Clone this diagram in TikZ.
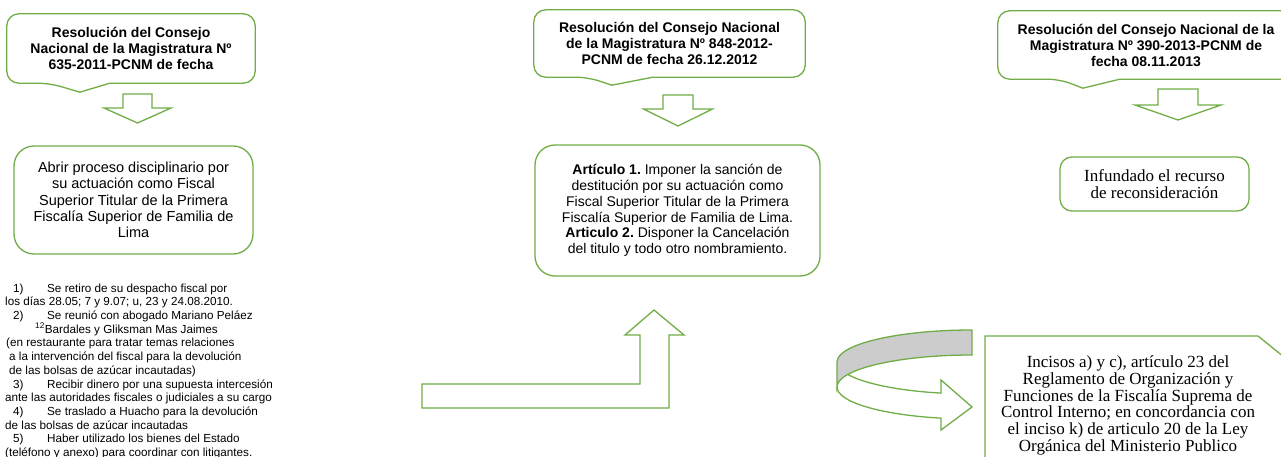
\documentclass[tikz,border=0pt]{standalone}
\usepackage{fontspec}
\setmainfont{Liberation Serif}
\setsansfont{Liberation Sans}
\usetikzlibrary{positioning, calc}
\frenchspacing

\definecolor{boxgreen}{RGB}{112,173,71}
\definecolor{bandgray}{RGB}{204,204,204}

\begin{document}
\begin{tikzpicture}[x=1pt, y=-1pt, text centered,
  callout/.style = {draw=boxgreen, line width=1.3pt, rounded corners=12pt, line join=round},
  restext/.style = {rectangle, inner sep=0pt, align=center,
                   font=\sffamily\bfseries\fontsize{14}{16}\selectfont},
  entity/.style = {rectangle, draw=boxgreen, line width=1.3pt, rounded corners=20pt,
                   inner sep=0pt, align=center, font=\sffamily\fontsize{14.5}{16.4}\selectfont},
  verdict/.style = {rectangle, draw=boxgreen, line width=1.3pt, rounded corners=12pt,
                   inner sep=0pt, align=center, font=\fontsize{17}{17}\selectfont},
  blockarrow/.style = {draw=boxgreen, line width=1.3pt, line join=miter},
  listtext/.style = {inner sep=0pt, align=left, anchor=north west,
                   font=\sffamily\fontsize{11.7}{13.7}\selectfont}
                    ]
\useasboundingbox (0,0) rectangle (1281,457);
\clip (0,0) rectangle (1281,457);

% resoluciones
\node (res1) [restext, minimum width=248, minimum height=69] at (131,48.5)
  {Resolución del Consejo\\Nacional de la Magistratura Nº\\635-2011-PCNM de fecha};
\node (res2) [restext, minimum width=271, minimum height=67] at (669.5,43.5)
  {Resolución del Consejo Nacional\\de la Magistratura Nº 848-2012-\\PCNM de fecha 26.12.2012};
\node (res3) [restext, minimum width=296, minimum height=68] at (1146,45)
  {Resolución del Consejo Nacional de la\\Magistratura Nº 390-2013-PCNM de\\fecha 08.11.2013};

\draw [callout] ([xshift=103]res1.south west) -- (res1.south east) -- (res1.north east)
  -- (res1.north west) -- (res1.south west) -- ([xshift=43]res1.south west)
  [sharp corners] -- ([xshift=73,yshift=-9]res1.south west) -- cycle;
\draw [callout] ([xshift=119]res2.south west) -- (res2.south east) -- (res2.north east)
  -- (res2.north west) -- (res2.south west) -- ([xshift=54]res2.south west)
  [sharp corners] -- ([xshift=78,yshift=-8]res2.south west) -- cycle;
\draw [callout] ([xshift=122]res3.south west) -- (res3.south east) -- (res3.north east)
  -- (res3.north west) -- (res3.south west) -- ([xshift=62]res3.south west)
  [sharp corners] -- ([xshift=85,yshift=-9]res3.south west) -- cycle;

% flechas hacia abajo
\foreach \cx/\top/\sh/\shaft/\head/\tip in {137.5/94/108/14.5/33.5/123,
    678/95/109/15/34.5/126, 1178/89/105/20/43/120}
  \draw [blockarrow] (\cx-\shaft,\top) -- (\cx+\shaft,\top) -- (\cx+\shaft,\sh)
    -- (\cx+\head,\sh) -- (\cx,\tip) -- (\cx-\head,\sh) -- (\cx-\shaft,\sh) -- cycle;

% decisiones
\node (abrir) [entity, minimum width=239, minimum height=108] at (133.5,200)
  {Abrir proceso disciplinario por\\su actuación como Fiscal\\Superior Titular de la Primera\\Fiscalía Superior de Familia de\\Lima};
\node (sancion) [entity, minimum width=285, minimum height=131,
  font=\sffamily\fontsize{14}{15.8}\selectfont] at (677.5,210.5)
  {\textbf{Artículo 1.} Imponer la sanción de\\destitución por su actuación como\\Fiscal Superior Titular de la Primera\\Fiscalía Superior de Familia de Lima.\\\textbf{Articulo 2.} Disponer la Cancelación\\del titulo y todo otro nombramiento.};
\node (infundado) [verdict, minimum width=189, minimum height=54] at (1154.5,184)
  {Infundado el recurso\\de reconsideración};

% cargos
\node (cargos) [listtext] at (5,283.5)
  {\hspace*{8pt}\makebox[34pt][l]{1)}Se retiro de su despacho fiscal por\\
   los días 28.05; 7 y 9.07; u, 23 y 24.08.2010.\\
   \hspace*{8pt}\makebox[34pt][l]{2)}Se reunió con abogado Mariano Peláez\\
   \hspace*{30pt}\textsuperscript{12}Bardales y Gliksman Mas Jaimes\\
   \hspace*{1pt}(en restaurante para tratar temas relaciones\\
   \hspace*{4pt}a la intervención del fiscal para la devolución\\
   \hspace*{4pt}de las bolsas de azúcar incautadas)\\
   \hspace*{8pt}\makebox[34pt][l]{3)}Recibir dinero por una supuesta intercesión\\
   ante las autoridades fiscales o judiciales a su cargo\\
   \hspace*{8pt}\makebox[34pt][l]{4)}Se traslado a Huacho para la devolución\\
   de las bolsas de azúcar incautadas\\
   \hspace*{8pt}\makebox[34pt][l]{5)}Haber utilizado los bienes del Estado\\
   (teléfono y anexo) para coordinar con litigantes.};

% flecha en L
\draw [blockarrow] (422,384) -- (640,384) -- (640,335) -- (625,335) -- (654,310)
  -- (684,335) -- (669,335) -- (669,408) -- (422,408) -- cycle;

% flecha curva
\draw [blockarrow, fill=bandgray] (972,330) arc[start angle=270, end angle=180, x radius=135, y radius=32]
  -- (837,387) arc[start angle=180, end angle=270, x radius=135, y radius=32] -- cycle;
\draw [blockarrow] (837,387) arc[start angle=180, end angle=103.3, x radius=135, y radius=32]
  -- (941,430) -- (972,407) -- (941,380) -- (941,393.1)
  arc[start angle=103.3, end angle=156.7, x radius=135, y radius=32];

% normas
\node (normas) [inner sep=0pt, align=center, font=\fontsize{17}{16.8}\selectfont] at (1128,405.5)
  {Incisos a) y c), artículo 23 del\\Reglamento de Organización y\\Funciones de la Fiscalía Suprema de\\Control Interno; en concordancia con\\el inciso k) de articulo 20 de la Ley\\Orgánica del Ministerio Publico};
\draw [blockarrow] (985,470) -- (985,336) -- (1258,336) -- (1300,370);
\end{tikzpicture}
\end{document}
